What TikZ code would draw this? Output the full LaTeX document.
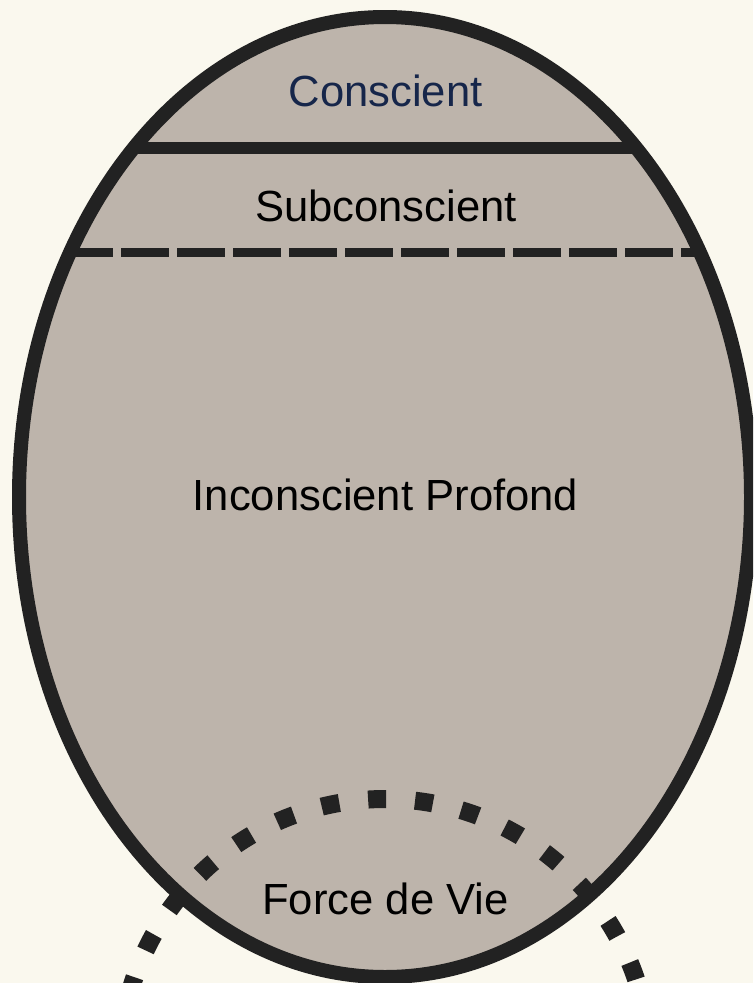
\documentclass[tikz,border=0pt]{standalone}
\usepackage{fontspec}
\setmainfont{Liberation Sans}
\usepackage{xcolor}
\usepackage{tikz}
\definecolor{creme}{HTML}{FAF8EE}
\definecolor{taupe}{HTML}{BDB4AB}
\definecolor{encre}{HTML}{222222}
\definecolor{marine}{HTML}{16264A}

\begin{document}
\begin{tikzpicture}[x=1pt, y=-1pt,
    niveau/.style={anchor=base, inner sep=0pt, font=\fontsize{43.6}{52}\selectfont}]
    \fill[creme] (0,0) rectangle (753,983);
    \clip (0,0) rectangle (753,983);
    \fill[taupe] (385,497) ellipse[x radius=366, y radius=480];
    \begin{scope}
      \clip (385,497) ellipse[x radius=366, y radius=480];
      \draw[encre, line width=12pt] (0,148) -- (753,148);
      \draw[encre, line width=9pt, dash pattern=on 48pt off 8pt] (9,252.5) -- (753,252.5);
    \end{scope}
    \draw[encre, line width=14pt] (385,497) ellipse[x radius=366, y radius=480];
    \draw[encre, line width=18pt, dash pattern=on 18pt off 29pt]
      (385,1064) ++(174.9:265) arc[start angle=174.9, end angle=365, radius=265];
    \node[niveau, marine] (conscient) at (385.5,106) {Conscient};
    \node[niveau] (subconscient) at (386,221) {Subconscient};
    \node[niveau] (inconscient) at (385.5,510) {Inconscient Profond};
    \node[niveau] (force) at (385.5,914) {Force de Vie};
  \end{tikzpicture}
\end{document}
